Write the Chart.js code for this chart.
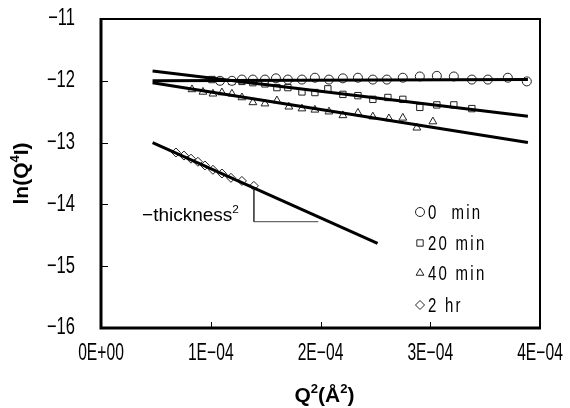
<!DOCTYPE html>
<html>
<head>
<meta charset="utf-8">
<script src="https://cdn.jsdelivr.net/npm/chart.js@4.4.1/dist/chart.umd.min.js"></script>
<style>
  html, body { margin: 0; padding: 0; background: #fff; }
  #wrap { width: 570px; height: 408px; }
</style>
</head>
<body>
<div id="wrap"><canvas id="chart" width="570" height="408"></canvas></div>
<script>
// ==========================================
// 1. Data
// ==========================================
const xTicks = [0, 1e-4, 2e-4, 3e-4, 4e-4];
const xTickLabels = ['0E+00', '1E\u221204', '2E\u221204', '3E\u221204', '4E\u221204'];
const yTicks = [-16, -15, -14, -13, -12, -11];
const yTickLabels = ['\u221216', '\u221215', '\u221214', '\u221213', '\u221212', '\u221211'];

const seriesNames = ['0  min', '20 min', '40 min', '2 hr'];
const seriesStyles = ['circle', 'rect', 'triangle', 'rectRot'];

// 0 min
const q2_0min = [1.084e-4, 1.193e-4, 1.284e-4, 1.384e-4, 1.494e-4, 1.594e-4, 1.703e-4, 1.831e-4, 1.949e-4, 2.077e-4, 2.204e-4,
                 2.341e-4, 2.477e-4, 2.605e-4, 2.750e-4, 2.905e-4, 3.060e-4, 3.215e-4, 3.379e-4, 3.525e-4, 3.707e-4, 3.880e-4];
const ln_0min = [-12.00, -12.00, -11.98, -11.98, -11.98, -11.96, -11.98, -11.98, -11.95, -11.98, -11.96,
                 -11.95, -11.98, -11.98, -11.95, -11.93, -11.92, -11.93, -11.98, -11.98, -11.95, -12.01];
// 20 min
const q2_20min = [1.011e-4, 1.084e-4, 1.193e-4, 1.284e-4, 1.384e-4, 1.494e-4, 1.603e-4, 1.703e-4, 1.831e-4, 1.949e-4,
                  2.067e-4, 2.204e-4, 2.341e-4, 2.477e-4, 2.614e-4, 2.750e-4, 2.905e-4, 3.060e-4, 3.215e-4, 3.379e-4];
const ln_20min = [-11.98, -12.00, -12.01, -12.01, -12.03, -12.05, -12.11, -12.11, -12.18, -12.19,
                  -12.13, -12.22, -12.24, -12.30, -12.27, -12.30, -12.43, -12.39, -12.39, -12.45];
// 40 min
const q2_40min = [0.829e-4, 0.929e-4, 1.020e-4, 1.102e-4, 1.193e-4, 1.284e-4, 1.384e-4, 1.494e-4, 1.603e-4, 1.712e-4,
                  1.831e-4, 1.949e-4, 2.077e-4, 2.204e-4, 2.341e-4, 2.477e-4, 2.623e-4, 2.750e-4, 2.878e-4, 3.024e-4];
const ln_40min = [-12.14, -12.18, -12.21, -12.19, -12.21, -12.27, -12.35, -12.37, -12.32, -12.42,
                  -12.45, -12.47, -12.50, -12.56, -12.52, -12.58, -12.61, -12.60, -12.76, -12.66];
// 2 hr
const q2_2hr = [0.683e-4, 0.756e-4, 0.820e-4, 0.883e-4, 0.947e-4, 1.020e-4, 1.102e-4, 1.184e-4, 1.284e-4, 1.393e-4];
const ln_2hr = [-13.16, -13.21, -13.26, -13.31, -13.37, -13.44, -13.50, -13.57, -13.62, -13.70];

// straight-line fits (end points)
const fitX = [0.47e-4, 3.89e-4];
const fit_0min = [-12.00, -11.98];
const fit_20min = [-11.84, -12.575];
const fit_40min = [-12.03, -13.00];
const fitX_2hr = [0.47e-4, 2.52e-4];
const fit_2hr = [-13.00, -14.63];

// slope triangle under the 2 hr data
const slopeX = [1.393e-4, 1.393e-4, 1.98e-4];
const slopeY = [-13.70, -14.28, -14.28];
const slopeLabel = '\u2212thickness';

// ==========================================
// 2. Helpers
// ==========================================
const toPts = (xs, ys) => xs.map((x, i) => ({ x: x, y: ys[i] }));
const SANS = "'Liberation Sans', Arial, sans-serif";

function markerSet(label, xs, ys, style) {
    return {
        label: label,
        data: toPts(xs, ys),
        pointStyle: style,
        pointRadius: 4.5,
        pointBackgroundColor: '#fff',
        pointBorderColor: '#222',
        pointBorderWidth: 1,
        showLine: false,
        order: 2
    };
}

function fitSet(xs, ys) {
    return {
        data: toPts(xs, ys),
        showLine: true,
        borderColor: '#000',
        borderWidth: 3,
        pointRadius: 0,
        fill: false,
        order: 1
    };
}

// condensed text: squeeze horizontally around the anchor
function drawNarrow(ctx, text, x, y, size, sx, align, spacing) {
    ctx.save();
    ctx.font = size + 'px ' + SANS;
    ctx.letterSpacing = (spacing || 0) + 'px';
    ctx.textAlign = align;
    ctx.textBaseline = 'middle';
    ctx.translate(x, y);
    ctx.scale(sx, 1);
    ctx.fillText(text, 0, 0);
    ctx.restore();
}

// text with superscripts: parts = [[text, isSup], ...]
function drawRich(ctx, parts, x, y, size, bold, align) {
    const w = bold ? 'bold ' : '';
    let total = 0;
    parts.forEach(p => {
        ctx.font = w + (p[1] ? size * 0.62 : size) + 'px ' + SANS;
        total += ctx.measureText(p[0]).width;
    });
    let cx = align === 'center' ? x - total / 2 : (align === 'right' ? x - total : x);
    ctx.textAlign = 'left';
    ctx.textBaseline = 'alphabetic';
    parts.forEach(p => {
        ctx.font = w + (p[1] ? size * 0.62 : size) + 'px ' + SANS;
        ctx.fillText(p[0], cx, p[1] ? y - size * 0.42 : y);
        cx += ctx.measureText(p[0]).width;
    });
}

// ==========================================
// 3. Frame, ticks, titles, legend
// ==========================================
const decorPlugin = {
    id: 'decor',
    afterDatasetsDraw(chart) {
        const ctx = chart.ctx;
        const a = chart.chartArea;
        const xs = chart.scales.x, ys = chart.scales.y;
        ctx.save();
        ctx.strokeStyle = '#000';
        ctx.fillStyle = '#000';

        // inner tick marks
        ctx.lineWidth = 1;
        ctx.beginPath();
        yTicks.forEach(v => {
            const py = Math.round(ys.getPixelForValue(v)) + 0.5;
            ctx.moveTo(a.left, py); ctx.lineTo(a.left + 7, py);
        });
        xTicks.forEach(v => {
            const px = Math.round(xs.getPixelForValue(v)) + 0.5;
            ctx.moveTo(px, a.bottom); ctx.lineTo(px, a.bottom - 6);
        });
        ctx.stroke();

        // frame: thick left/bottom, thinner top/right
        ctx.lineWidth = 2;
        ctx.beginPath();
        ctx.moveTo(a.left, a.top); ctx.lineTo(a.right, a.top); ctx.lineTo(a.right, a.bottom);
        ctx.stroke();
        ctx.lineWidth = 3;
        ctx.beginPath();
        ctx.moveTo(a.left, a.top - 1); ctx.lineTo(a.left, a.bottom); ctx.lineTo(a.right + 1, a.bottom);
        ctx.stroke();

        // tick labels
        yTicks.forEach((v, i) => {
            drawNarrow(ctx, yTickLabels[i], a.left - 26, ys.getPixelForValue(v), 23, 0.72, 'right');
        });
        xTicks.forEach((v, i) => {
            drawNarrow(ctx, xTickLabels[i], xs.getPixelForValue(v), a.bottom + 26, 23, 0.68, 'center');
        });

        // slope label
        const lx = xs.getPixelForValue(slopeX[0]) - 15;
        const ly = ys.getPixelForValue(slopeY[1]) - 1;
        drawRich(ctx, [[slopeLabel, false], ['2', true]], lx, ly, 19, false, 'right');

        // axis titles
        drawRich(ctx, [['Q', false], ['2', true], ['(\u00c5', false], ['2', true], [')', false]],
            (a.left + a.right) / 2 + 4, 402, 21, true, 'center');
        ctx.save();
        ctx.translate(28, (a.top + a.bottom) / 2);
        ctx.rotate(-Math.PI / 2);
        drawRich(ctx, [['ln(Q', false], ['4', true], ['I)', false]], 0, 0, 21, true, 'center');
        ctx.restore();

        // legend
        const legX = 420, legY = [212, 243, 273, 305];
        seriesNames.forEach((name, i) => {
            ctx.strokeStyle = '#222';
            ctx.fillStyle = '#fff';
            ctx.lineWidth = 1;
            Chart.helpers.drawPoint(ctx, { pointStyle: seriesStyles[i], radius: 4.5, rotation: 0, borderWidth: 1 }, legX, legY[i]);
            ctx.fillStyle = '#000';
            drawNarrow(ctx, name, legX + 8, legY[i] + 1, 20, 0.75, 'left', 3);
        });
        ctx.restore();
    }
};

// ==========================================
// 4. Chart
// ==========================================
const ctxMain = document.getElementById('chart').getContext('2d');
const mainChart = new Chart(ctxMain, {
    type: 'scatter',
    data: {
        datasets: [
            fitSet(fitX, fit_0min),
            fitSet(fitX, fit_20min),
            fitSet(fitX, fit_40min),
            fitSet(fitX_2hr, fit_2hr),
            {
                data: toPts(slopeX, slopeY),
                showLine: true,
                borderColor: '#444',
                borderWidth: 1,
                pointRadius: 0,
                order: 3
            },
            markerSet(seriesNames[0], q2_0min, ln_0min, seriesStyles[0]),
            markerSet(seriesNames[1], q2_20min, ln_20min, seriesStyles[1]),
            markerSet(seriesNames[2], q2_40min, ln_40min, seriesStyles[2]),
            markerSet(seriesNames[3], q2_2hr, ln_2hr, seriesStyles[3])
        ]
    },
    options: {
        responsive: false,
        animation: false,
        devicePixelRatio: 1,
        layout: { padding: { left: 0, right: 30, top: 19, bottom: 0 } },
        plugins: { legend: { display: false }, tooltip: { enabled: false } },
        scales: {
            x: {
                type: 'linear',
                min: 0, max: 4e-4,
                afterBuildTicks: s => { s.ticks = xTicks.map(v => ({ value: v })); },
                afterFit: s => { s.height = 80; },
                grid: { display: false, drawTicks: false },
                border: { display: false },
                ticks: { display: false }
            },
            y: {
                type: 'linear',
                min: -16, max: -11,
                afterBuildTicks: s => { s.ticks = yTicks.map(v => ({ value: v })); },
                afterFit: s => { s.width = 101; },
                grid: { display: false, drawTicks: false },
                border: { display: false },
                ticks: { display: false }
            }
        }
    },
    plugins: [decorPlugin]
});
</script>
</body>
</html>
